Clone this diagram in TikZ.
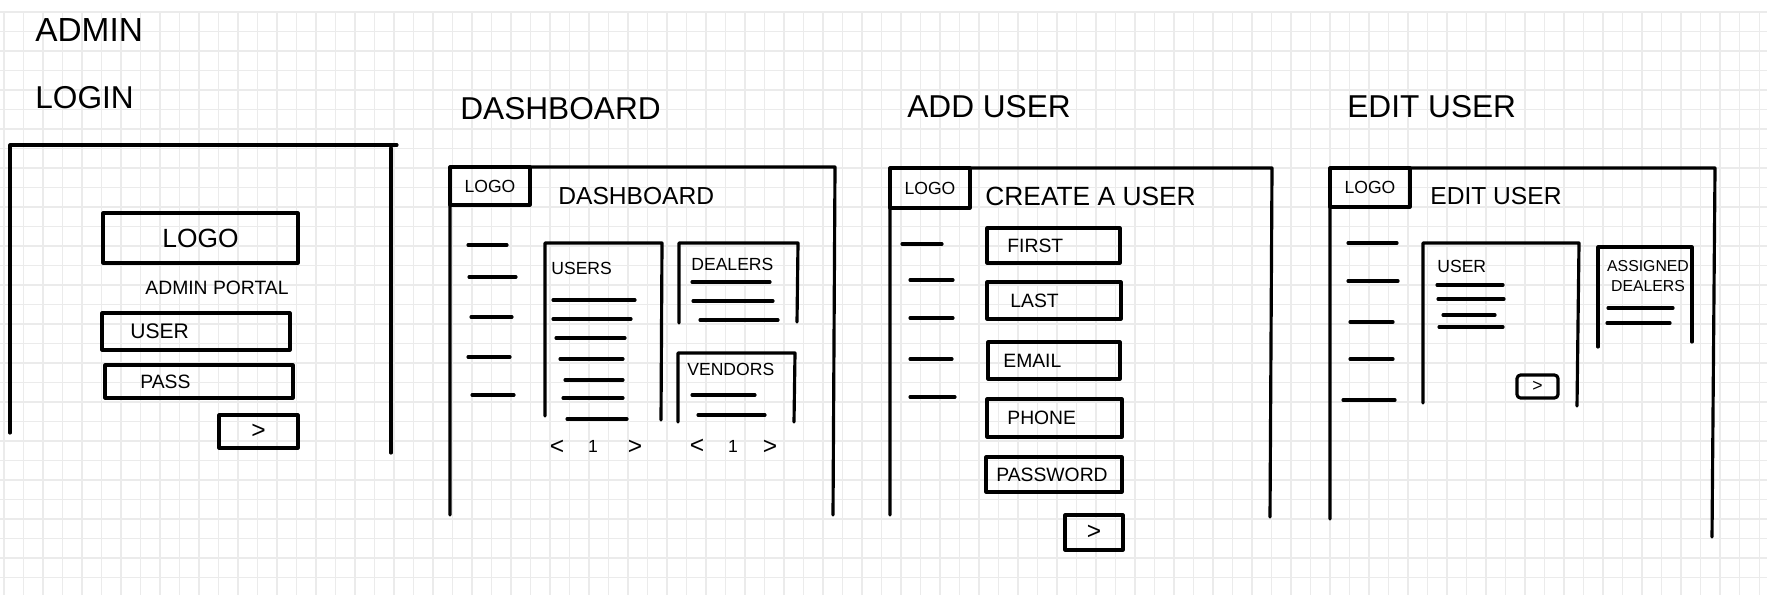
\documentclass[tikz,border=0pt]{standalone}
\usepackage{fontspec}
\setmainfont{Liberation Sans}
\tikzset{
  ink/.style={line width=1.8pt, line cap=round, line join=round},
  gridline/.style={gray!16, line width=0.6pt},
  title/.style={anchor=west, inner sep=0pt, font=\fontsize{18}{20}\selectfont},
  heading/.style={anchor=west, inner sep=0pt, font=\fontsize{14}{16}\selectfont},
  tag/.style={inner sep=0pt, font=\fontsize{10}{12}\selectfont},
  field/.style={inner sep=0pt, font=\fontsize{11}{13}\selectfont},
  chev/.style={inner sep=0pt, font=\fontsize{14}{16}\selectfont}
}
\begin{document}
\begin{tikzpicture}[x=0.02cm,y=-0.02cm]
  \useasboundingbox (0,0) rectangle (1767,595);
  \fill[white] (0,0) rectangle (1767,595);
  % grid paper
  \foreach \gx in {4,23.5,...,1767}
    \draw[gridline] (\gx,12) -- (\gx,595);
  \foreach \gy in {12,31.5,...,595}
    \draw[gridline] (0,\gy) -- (1767,\gy);

  % page titles
  \node[title, font=\fontsize{19}{21}\selectfont] (admin) at (35,30) {ADMIN};
  \node[title] (tlogin) at (35,98) {LOGIN};
  \node[title] (tdash) at (460,109) {DASHBOARD};
  \node[title] (tadd) at (907,107) {ADD USER};
  \node[title] (tedit) at (1347,107) {EDIT USER};

  % login screen
  \draw[ink] (10,433) -- (10,145) -- (397,145);
  \draw[ink] (391,148) -- (391,453);
  \draw[ink] (103,213) rectangle (298,263)
    node[pos=.5, tag, font=\fontsize{15}{17}\selectfont] (loginlogo) {LOGO};
  \node[field] (portal) at (217,288) {ADMIN PORTAL};
  \draw[ink] (102,313) rectangle (290,350);
  \node[field, anchor=west, font=\fontsize{12}{14}\selectfont] (userlbl) at (130,331) {USER};
  \draw[ink] (105,365) rectangle (293,398);
  \node[field, anchor=west] (passlbl) at (140,382) {PASS};
  \draw[ink] (219,415) rectangle (298,448) node[pos=.5, chev] (loginbtn) {>};

  % dashboard screen
  \draw[ink] (450,515) -- (450,167) -- (835,167) -- (833,515);
  \draw[ink] (450,167) rectangle (530,205) node[pos=.5, tag] (dlogo) {LOGO};
  \node[heading] (dhead) at (558,196) {DASHBOARD};
  \foreach \my/\ma/\mb in {245/468/507, 277/469/516, 317/471/512, 357/468/510, 395/472/514}
    \draw[ink] (\ma,\my) -- (\mb,\my);
  % users panel
  \draw[ink] (545,416) -- (545,243) -- (662,243) -- (661,420);
  \node[tag, anchor=west] (users) at (551,268) {USERS};
  \foreach \ly/\la/\lb in {300/553/635, 319/553/631, 338/556/625, 359/560/623, 380/565/623, 398/563/623, 419/567/627}
    \draw[ink] (\la,\ly) -- (\lb,\ly);
  \node[chev] (uprev) at (557,447) {<};
  \node[tag] (upage) at (593,446) {1};
  \node[chev] (unext) at (635,447) {>};
  % dealers panel
  \draw[ink] (679,323) -- (679,243) -- (798,243) -- (797,322);
  \node[tag, anchor=west] (dealers) at (691,264) {DEALERS};
  \foreach \ly/\la/\lb in {282/692/770, 301/693/773, 320/700/778}
    \draw[ink] (\la,\ly) -- (\lb,\ly);
  % vendors panel
  \draw[ink] (678,422) -- (678,353) -- (795,353) -- (794,422);
  \node[tag, anchor=west] (vendors) at (687,369) {VENDORS};
  \foreach \ly/\la/\lb in {395/692/755, 415/698/765}
    \draw[ink] (\la,\ly) -- (\lb,\ly);
  \node[chev] (vprev) at (697,446) {<};
  \node[tag] (vpage) at (733,446) {1};
  \node[chev] (vnext) at (770,447) {>};

  % add user screen
  \draw[ink] (890,515) -- (890,168) -- (1272,168) -- (1270,517);
  \draw[ink] (890,168) rectangle (970,208) node[pos=.5, tag] (alogo) {LOGO};
  \node[heading, font=\fontsize{15}{17}\selectfont] (ahead) at (985,196) {CREATE A USER};
  \foreach \my/\ma/\mb in {244/902/942, 280/910/953, 318/910/953, 359/910/952, 397/910/955}
    \draw[ink] (\ma,\my) -- (\mb,\my);
  \draw[ink] (987,228) rectangle (1120,263);
  \node[field, anchor=west] (first) at (1007,246) {FIRST};
  \draw[ink] (987,282) rectangle (1121,319);
  \node[field, anchor=west] (last) at (1010,301) {LAST};
  \draw[ink] (988,342) rectangle (1120,379);
  \node[field, anchor=west] (email) at (1003,361) {EMAIL};
  \draw[ink] (987,399) rectangle (1122,437);
  \node[field, anchor=west] (phone) at (1007,418) {PHONE};
  \draw[ink] (986,457) rectangle (1122,492);
  \node[field, anchor=west] (password) at (996,475) {PASSWORD};
  \draw[ink] (1065,515) rectangle (1123,550) node[pos=.5, chev] (addbtn) {>};

  % edit user screen
  \draw[ink] (1330,519) -- (1330,168) -- (1715,168) -- (1712,537);
  \draw[ink] (1330,168) rectangle (1410,207) node[pos=.5, tag] (elogo) {LOGO};
  \node[heading] (ehead) at (1430,196) {EDIT USER};
  \foreach \my/\ma/\mb in {243/1348/1397, 281/1348/1398, 322/1350/1393, 359/1350/1393, 400/1343/1395}
    \draw[ink] (\ma,\my) -- (\mb,\my);
  % user panel
  \draw[ink] (1423,403) -- (1423,243) -- (1579,243) -- (1577,406);
  \node[tag, anchor=west] (euser) at (1437,266) {USER};
  \foreach \ly/\la/\lb in {285/1437/1503, 299/1438/1504, 315/1443/1495, 327/1439/1503}
    \draw[ink] (\la,\ly) -- (\lb,\ly);
  \draw[ink, rounded corners=2pt] (1517,375) rectangle (1558,398)
    node[pos=.5, tag] (savebtn) {>};
  % assigned dealers panel
  \draw[ink] (1598,347) -- (1598,247) -- (1692,247) -- (1692,342);
  \node[tag, align=center, font=\fontsize{9}{11.5}\selectfont] (assigned) at (1648,276) {ASSIGNED\\DEALERS};
  \foreach \ly/\la/\lb in {308/1608/1673, 323/1607/1670}
    \draw[ink] (\la,\ly) -- (\lb,\ly);
\end{tikzpicture}
\end{document}
